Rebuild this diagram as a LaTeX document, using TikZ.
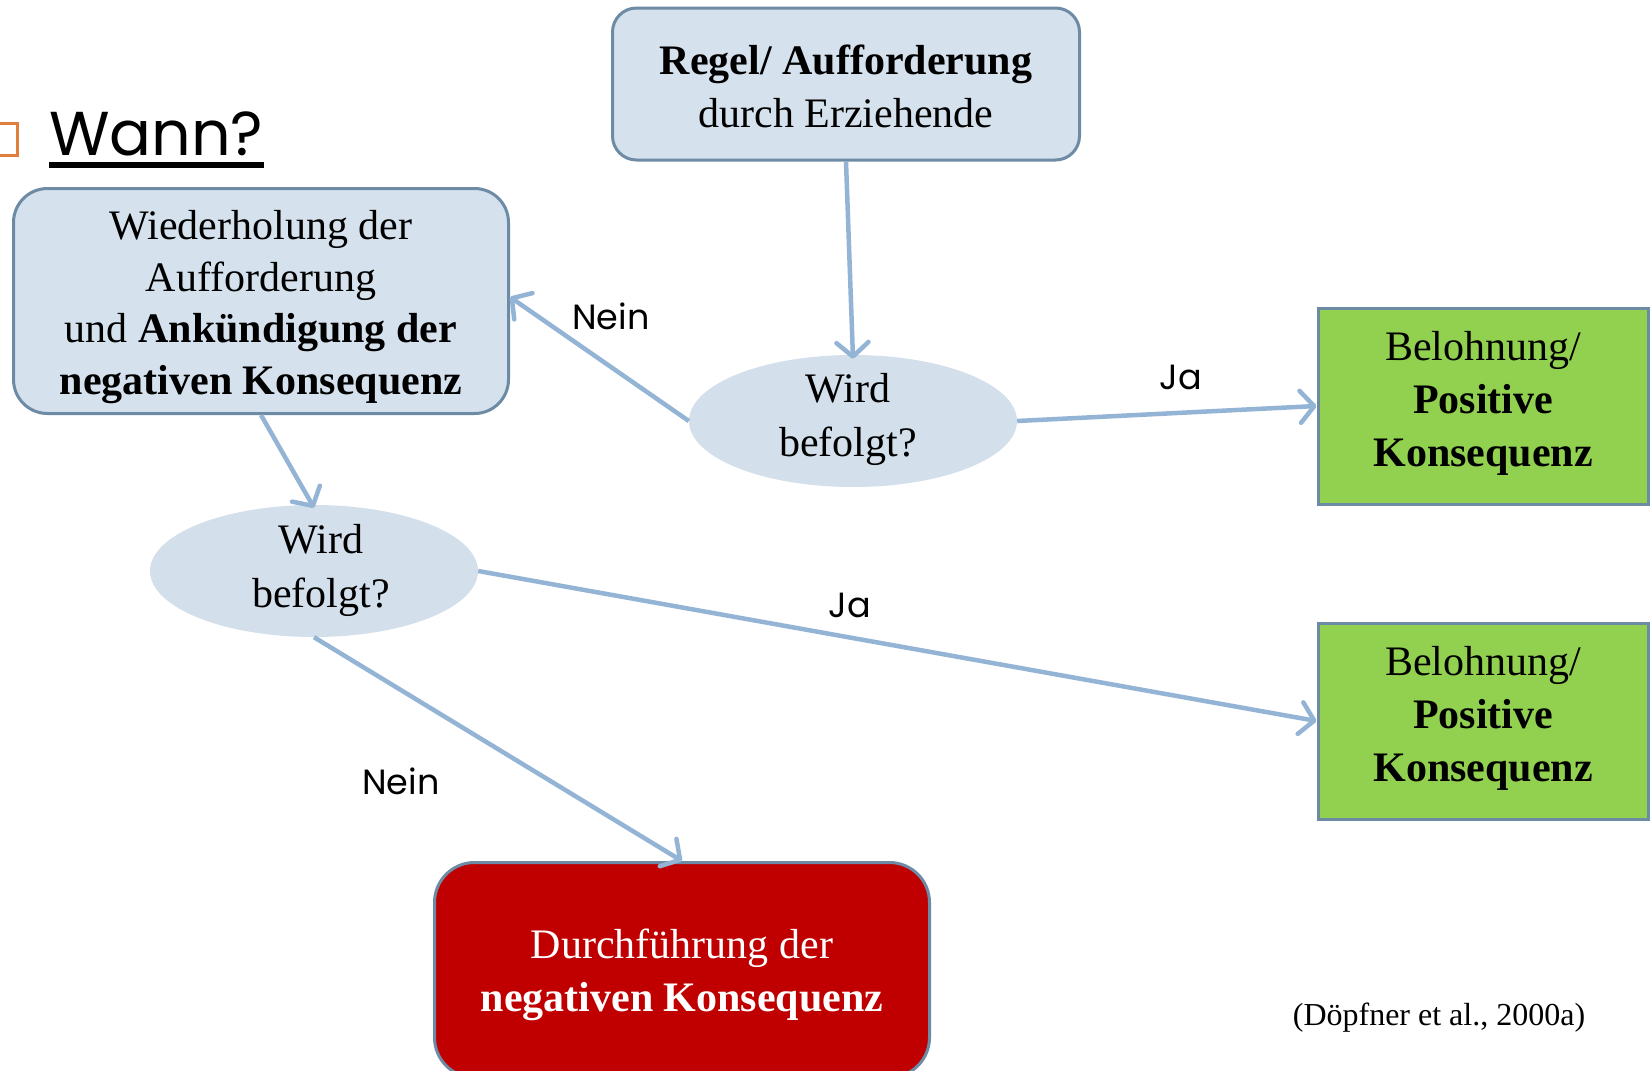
\documentclass[tikz,border=0pt]{standalone}
\usepackage{fontspec}
\setmainfont{Liberation Serif}
\newfontfamily\gothic{Poppins}
\usetikzlibrary{arrows.meta,shapes.geometric}
\definecolor{boxfill}{HTML}{D5E2EE}
\definecolor{ellfill}{HTML}{D3E0EC}
\definecolor{bordc}{HTML}{6E8BA6}
\definecolor{arrc}{HTML}{94B4D6}
\definecolor{grn}{HTML}{92D050}
\definecolor{rd}{HTML}{C00000}
\definecolor{orng}{HTML}{E27F3D}
\begin{document}
\begin{tikzpicture}[x=1pt,y=-1pt,
  txt/.style={font=\fontsize{42}{52}\selectfont, align=center, inner sep=0pt},
  bluebox/.style={draw=bordc, line width=3pt, fill=boxfill, rounded corners=#1, inner sep=0pt},
  greenbox/.style={draw=bordc, line width=3pt, fill=grn, minimum width=330pt, minimum height=196pt, inner sep=0pt},
  ell/.style={ellipse, fill=ellfill, draw=none, minimum width=328pt, minimum height=132pt, inner sep=0pt},
  lab/.style={font=\gothic\fontsize{35}{40}\selectfont, inner sep=0pt},
  conn/.style={draw=arrc, line width=4.5pt, -{Straight Barb[length=14pt,width=32pt,round]}}
]
\useasboundingbox (0,0) rectangle (1650,1071);
\clip (0,0) rectangle (1650,1071);
\fill[white] (0,0) rectangle (1650,1071);

% title
\draw[orng, line width=3pt] (-15,123) rectangle (17,155);
\node[font=\gothic\fontsize{62}{70}\selectfont, inner sep=0pt, anchor=base west] (wann) at (49,155) {Wann?};
\draw[line width=6pt] ([yshift=-10pt]wann.base west) -- ([yshift=-10pt]wann.base east);

% boxes
\node[bluebox=24pt, minimum width=467pt, minimum height=152pt] (regel) at (846,84) {};
\node[txt, font=\fontsize{42}{53}\selectfont] (regelt) at ([yshift=-2pt]regel.center)
  {\textbf{Regel/ Aufforderung}\\durch Erziehende};
\node[bluebox=34pt, minimum width=495pt, minimum height=225pt] (wh) at (261,301) {};
\node[txt, font=\fontsize{42}{51.5}\selectfont] (wht) at ([yshift=-6pt]wh.center)
  {Wiederholung der\\Aufforderung\\und \textbf{Ankündigung der}\\\textbf{negativen Konsequenz}};
\node[greenbox] (g1) at (1483,406) {};
\node[txt, font=\fontsize{42}{53}\selectfont] (g1t) at ([yshift=3pt]g1.center) {Belohnung/\\\textbf{Positive}\\\textbf{Konsequenz}};
\node[greenbox] (g2) at (1483,721) {};
\node[txt, font=\fontsize{42}{53}\selectfont] (g2t) at ([yshift=3pt]g2.center) {Belohnung/\\\textbf{Positive}\\\textbf{Konsequenz}};
\node[draw=bordc, line width=3pt, fill=rd, rounded corners=40pt, inner sep=0pt,
  minimum width=495pt, minimum height=215pt] (red) at (682,970) {};
\node[txt, text=white, font=\fontsize{42}{53}\selectfont] (redt) at ([yshift=-5pt]red.center)
  {Durchführung der\\\textbf{negativen Konsequenz}};

% decisions
\node[ell] (e1) at (853,421) {};
\node[txt, font=\fontsize{42}{54}\selectfont] (e1t) at (848,419) {Wird\\befolgt?};
\node[ell] (e2) at (314,571) {};
\node[txt, font=\fontsize{42}{54}\selectfont] (e2t) at (321,570) {Wird\\befolgt?};

% connectors
\draw[conn] (regel.south) -- ([yshift=-4pt]e1.north);
\draw[conn] (e1.west) -- ([yshift=4pt]wh.east);
\draw[conn] (e1.east) -- (g1.west);
\draw[conn] (wh.south) -- ([yshift=-3pt]e2.north);
\draw[conn] (e2.east) -- (g2.west);
\draw[conn] (e2.south) -- (red.north);

% labels
\node[lab] (n1) at (611,316) {Nein};
\node[lab] (j1) at (1181,377) {Ja};
\node[lab] (j2) at (850,605) {Ja};
\node[lab] (n2) at (401,781) {Nein};

\node[font=\fontsize{32}{38}\selectfont, inner sep=0pt] (cite) at (1439,1018) {(Döpfner et al., 2000a)};
\end{tikzpicture}
\end{document}
